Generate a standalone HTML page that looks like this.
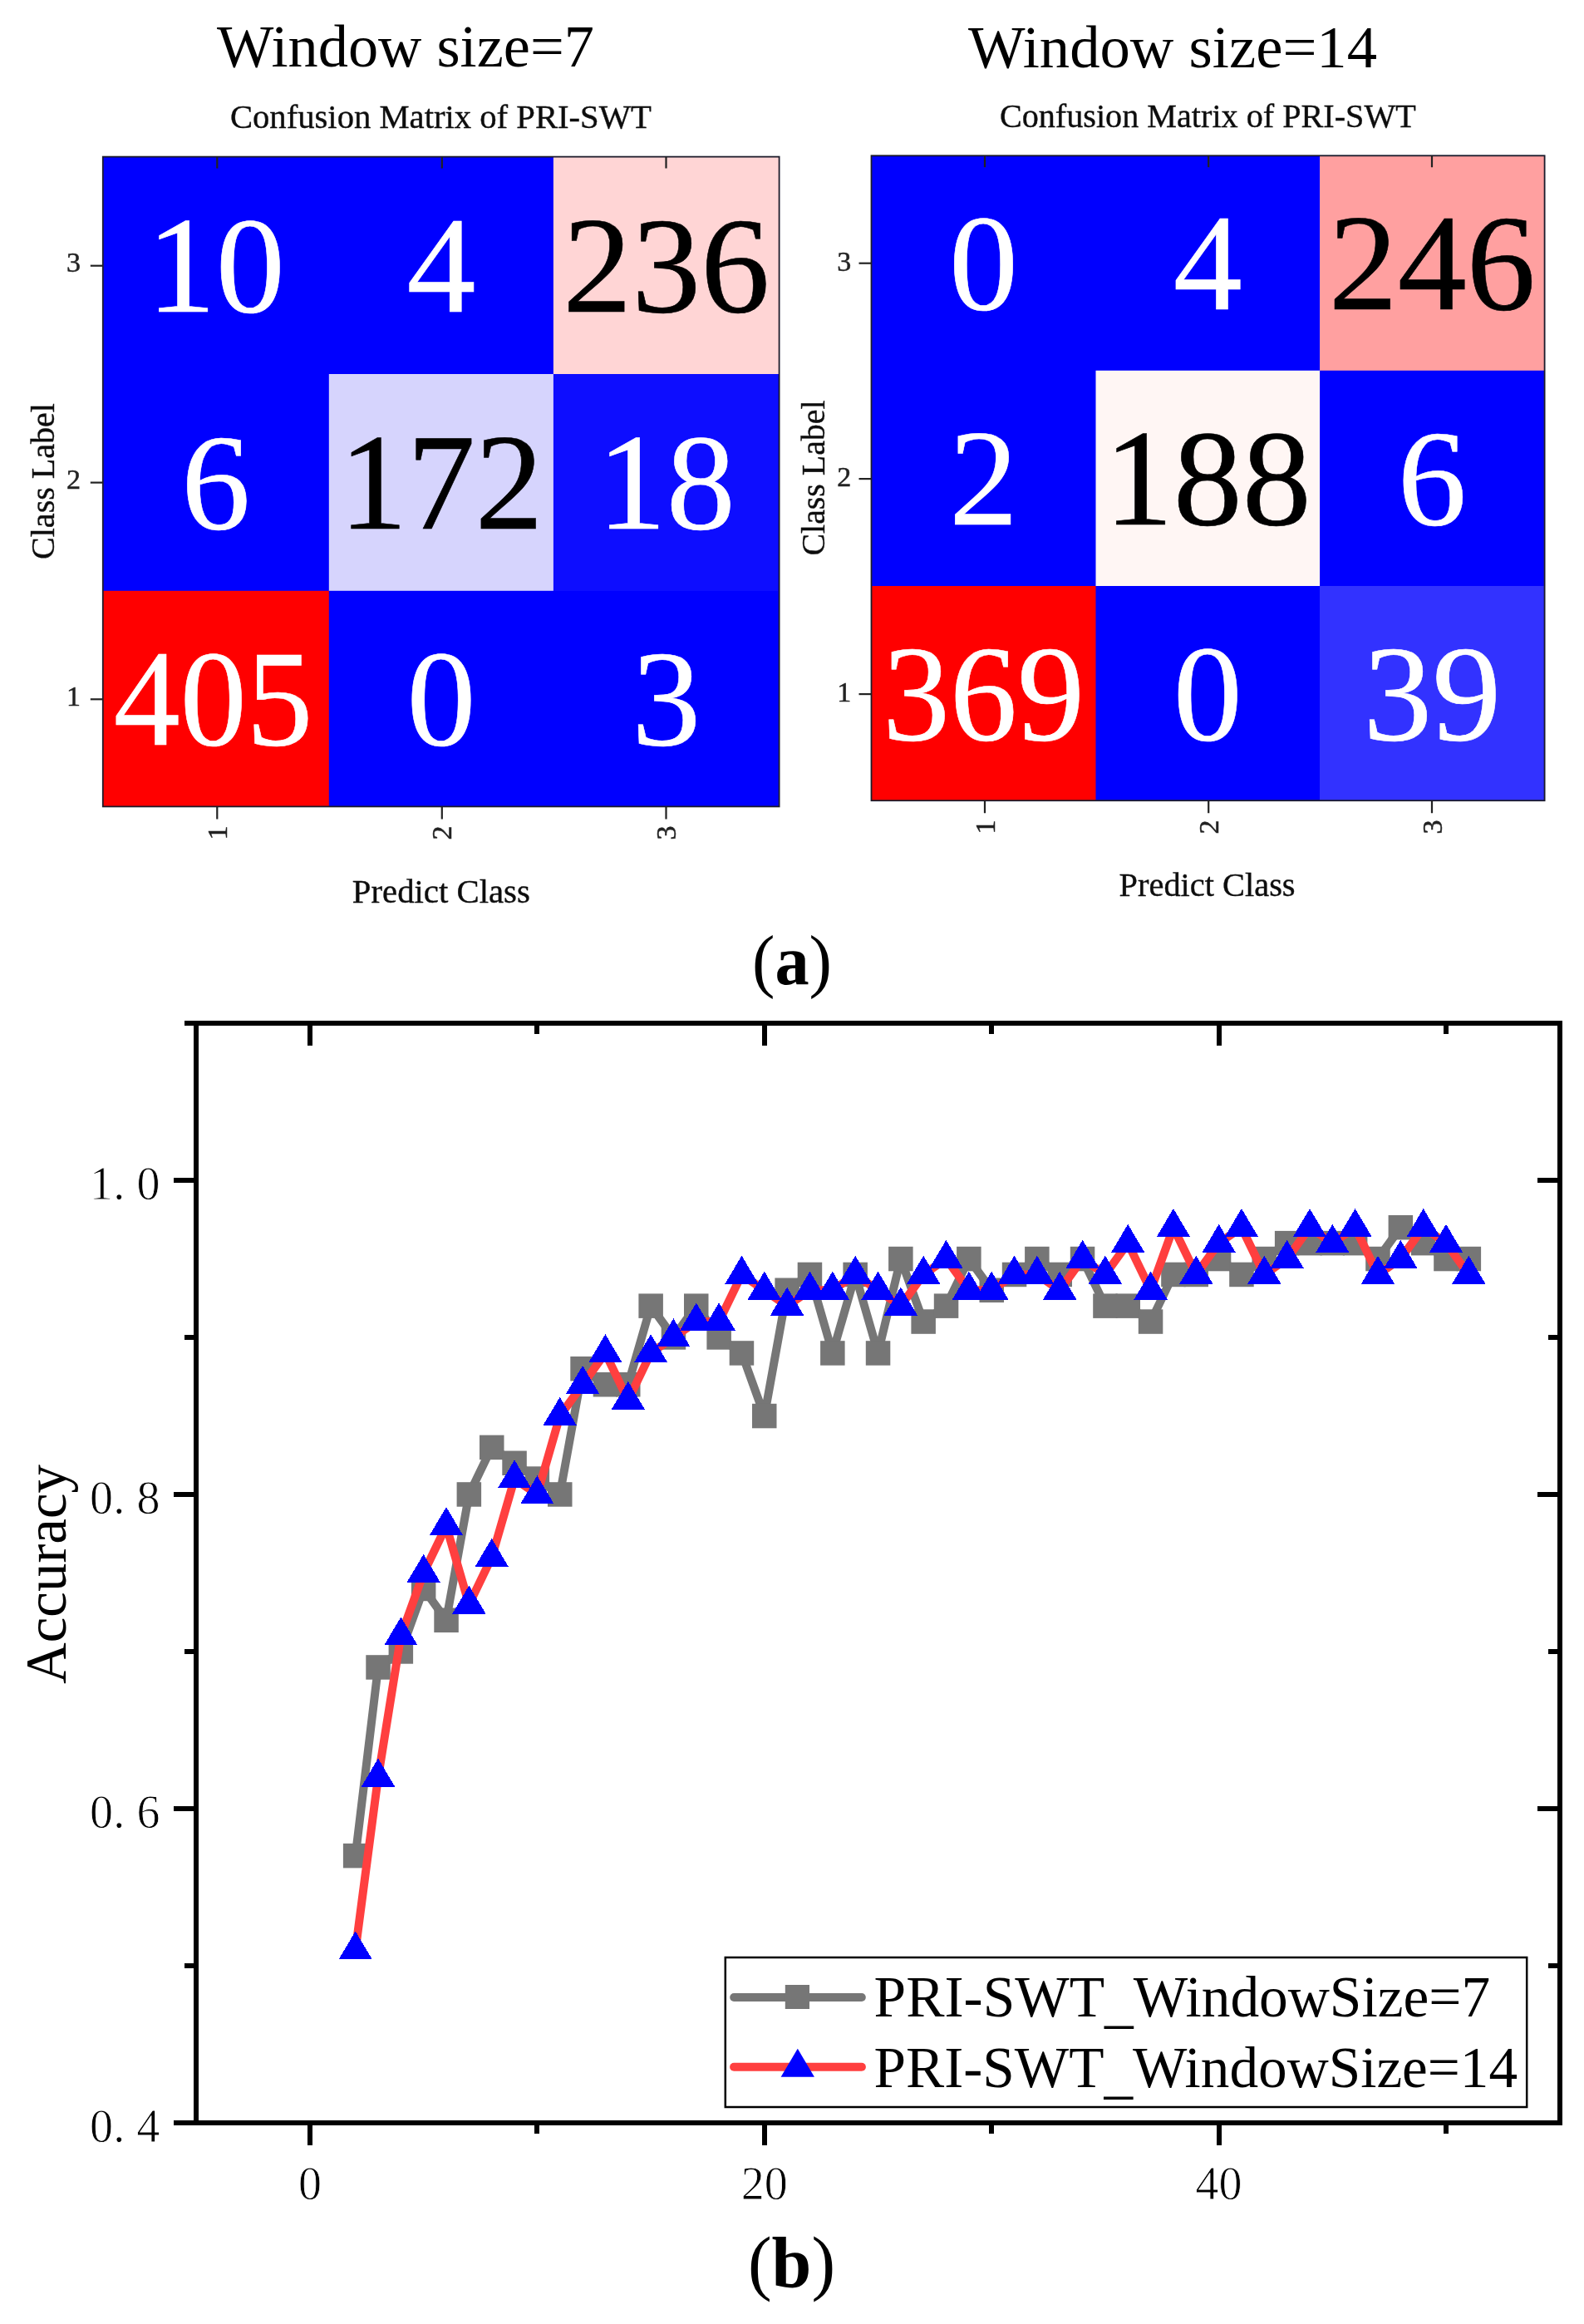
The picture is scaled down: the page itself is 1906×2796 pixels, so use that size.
<!DOCTYPE html>
<html lang="en"><head><meta charset="utf-8"><title>Figure: PRI-SWT window size comparison</title>
<style>
html,body{margin:0;padding:0;background:#fff}
body{width:1906px;height:2796px;overflow:hidden}
svg{display:block;font-family:"Liberation Serif", serif}
</style></head><body>
<svg width="1906" height="2796" viewBox="0 0 1906 2796">
<defs><filter id="soft" x="-2%" y="-2%" width="104%" height="104%"><feGaussianBlur stdDeviation="0.7"/></filter></defs>
<rect width="1906" height="2796" fill="#fff"/>
<g filter="url(#soft)">
<rect x="123.8" y="188.6" width="272.6" height="262.0" fill="#0000ff"/>
<rect x="395.8" y="188.6" width="270.7" height="262.0" fill="#0000ff"/>
<rect x="665.9" y="188.6" width="271.7" height="262.0" fill="#ffd5d5"/>
<rect x="123.8" y="450.0" width="272.6" height="261.4" fill="#0000ff"/>
<rect x="395.8" y="450.0" width="270.7" height="261.4" fill="#d6d4fd"/>
<rect x="665.9" y="450.0" width="271.7" height="261.4" fill="#0b0bff"/>
<rect x="123.8" y="710.8" width="272.6" height="259.6" fill="#ff0000"/>
<rect x="395.8" y="710.8" width="270.7" height="259.6" fill="#0000ff"/>
<rect x="665.9" y="710.8" width="271.7" height="259.6" fill="#0000ff"/>
<rect x="123.8" y="188.6" width="813.8" height="781.8" fill="none" stroke="#1a1a2a" stroke-width="1.8"/>
<path d="M261.3 188.6v14M261.3 970.4v15" stroke="#222" stroke-width="2.2"/>
<text transform="translate(272.8 1002) rotate(-90)" text-anchor="middle" font-size="34" fill="#222" stroke="#222" stroke-width="0.5">1</text>
<path d="M531.8 188.6v14M531.8 970.4v15" stroke="#222" stroke-width="2.2"/>
<text transform="translate(543.3 1002) rotate(-90)" text-anchor="middle" font-size="34" fill="#222" stroke="#222" stroke-width="0.5">2</text>
<path d="M801.5 188.6v14M801.5 970.4v15" stroke="#222" stroke-width="2.2"/>
<text transform="translate(813.0 1002) rotate(-90)" text-anchor="middle" font-size="34" fill="#222" stroke="#222" stroke-width="0.5">3</text>
<path d="M108.8 319.7h15" stroke="#222" stroke-width="2.2"/>
<text transform="translate(88.5 327.2) " text-anchor="middle" font-size="34" fill="#222" stroke="#222" stroke-width="0.5">3</text>
<path d="M108.8 580.6h15" stroke="#222" stroke-width="2.2"/>
<text transform="translate(88.5 588.1) " text-anchor="middle" font-size="34" fill="#222" stroke="#222" stroke-width="0.5">2</text>
<path d="M108.8 841.3h15" stroke="#222" stroke-width="2.2"/>
<text transform="translate(88.5 848.8) " text-anchor="middle" font-size="34" fill="#222" stroke="#222" stroke-width="0.5">1</text>
<text x="259.8" y="374.7" text-anchor="middle" font-size="166" fill="#fff" stroke="#fff" stroke-width="0.6">10</text>
<text x="530.9" y="374.7" text-anchor="middle" font-size="166" fill="#fff" stroke="#fff" stroke-width="0.6">4</text>
<text x="801.8" y="374.7" text-anchor="middle" font-size="166" fill="#000" stroke="#000" stroke-width="0.6">236</text>
<text x="259.8" y="635.6" text-anchor="middle" font-size="166" fill="#fff" stroke="#fff" stroke-width="0.6">6</text>
<text x="530.9" y="635.6" text-anchor="middle" font-size="166" textLength="245.3" lengthAdjust="spacingAndGlyphs" fill="#000" stroke="#000" stroke-width="0.6">172</text>
<text x="801.8" y="635.6" text-anchor="middle" font-size="166" fill="#fff" stroke="#fff" stroke-width="0.6">18</text>
<text x="256.6" y="896.3" text-anchor="middle" font-size="166" textLength="239.7" lengthAdjust="spacingAndGlyphs" fill="#fff" stroke="#fff" stroke-width="0.6">405</text>
<text x="530.9" y="896.3" text-anchor="middle" font-size="166" fill="#fff" stroke="#fff" stroke-width="0.6">0</text>
<text x="801.8" y="896.3" text-anchor="middle" font-size="166" fill="#fff" stroke="#fff" stroke-width="0.6">3</text>
<text x="488" y="80" text-anchor="middle" font-size="72" textLength="454" lengthAdjust="spacingAndGlyphs" fill="#000">Window size=7</text>
<text x="530.4" y="154" text-anchor="middle" font-size="40" textLength="507" lengthAdjust="spacingAndGlyphs" fill="#111" stroke="#111" stroke-width="0.4">Confusion Matrix of PRI-SWT</text>
<text transform="translate(65.4 579) rotate(-90)" text-anchor="middle" font-size="40" textLength="188" lengthAdjust="spacingAndGlyphs" fill="#111" stroke="#111" stroke-width="0.4">Class Label</text>
<text x="530.8" y="1085.5" text-anchor="middle" font-size="40" textLength="214" lengthAdjust="spacingAndGlyphs" fill="#111" stroke="#111" stroke-width="0.4">Predict Class</text>
</g>
<g filter="url(#soft)">
<rect x="1048.5" y="187.3" width="270.6" height="259.1" fill="#0000ff"/>
<rect x="1318.5" y="187.3" width="270.2" height="259.1" fill="#0000ff"/>
<rect x="1588.1" y="187.3" width="270.5" height="259.1" fill="#ffa0a0"/>
<rect x="1048.5" y="445.8" width="270.6" height="259.8" fill="#0000ff"/>
<rect x="1318.5" y="445.8" width="270.2" height="259.8" fill="#fff6f4"/>
<rect x="1588.1" y="445.8" width="270.5" height="259.8" fill="#0000ff"/>
<rect x="1048.5" y="705.0" width="270.6" height="258.2" fill="#ff0000"/>
<rect x="1318.5" y="705.0" width="270.2" height="258.2" fill="#0000ff"/>
<rect x="1588.1" y="705.0" width="270.5" height="258.2" fill="#3030ff"/>
<rect x="1048.5" y="187.3" width="810.1" height="775.9" fill="none" stroke="#1a1a2a" stroke-width="1.8"/>
<path d="M1185.0 187.3v14M1185.0 963.2v15" stroke="#222" stroke-width="2.2"/>
<text transform="translate(1196.5 995) rotate(-90)" text-anchor="middle" font-size="34" fill="#222" stroke="#222" stroke-width="0.5">1</text>
<path d="M1454.2 187.3v14M1454.2 963.2v15" stroke="#222" stroke-width="2.2"/>
<text transform="translate(1465.7 995) rotate(-90)" text-anchor="middle" font-size="34" fill="#222" stroke="#222" stroke-width="0.5">2</text>
<path d="M1723.0 187.3v14M1723.0 963.2v15" stroke="#222" stroke-width="2.2"/>
<text transform="translate(1734.5 995) rotate(-90)" text-anchor="middle" font-size="34" fill="#222" stroke="#222" stroke-width="0.5">3</text>
<path d="M1033.5 316.7h15" stroke="#222" stroke-width="2.2"/>
<text transform="translate(1015.8 326.0) " text-anchor="middle" font-size="34" fill="#222" stroke="#222" stroke-width="0.5">3</text>
<path d="M1033.5 576.1h15" stroke="#222" stroke-width="2.2"/>
<text transform="translate(1015.8 585.4) " text-anchor="middle" font-size="34" fill="#222" stroke="#222" stroke-width="0.5">2</text>
<path d="M1033.5 835.1h15" stroke="#222" stroke-width="2.2"/>
<text transform="translate(1015.8 844.4) " text-anchor="middle" font-size="34" fill="#222" stroke="#222" stroke-width="0.5">1</text>
<text x="1183.5" y="371.7" text-anchor="middle" font-size="166" fill="#fff" stroke="#fff" stroke-width="0.6">0</text>
<text x="1453.3" y="371.7" text-anchor="middle" font-size="166" fill="#fff" stroke="#fff" stroke-width="0.6">4</text>
<text x="1723.3" y="371.7" text-anchor="middle" font-size="166" fill="#000" stroke="#000" stroke-width="0.6">246</text>
<text x="1183.5" y="631.1" text-anchor="middle" font-size="166" fill="#fff" stroke="#fff" stroke-width="0.6">2</text>
<text x="1453.3" y="631.1" text-anchor="middle" font-size="166" fill="#000" stroke="#000" stroke-width="0.6">188</text>
<text x="1723.3" y="631.1" text-anchor="middle" font-size="166" fill="#fff" stroke="#fff" stroke-width="0.6">6</text>
<text x="1183.5" y="890.1" text-anchor="middle" font-size="166" textLength="243.0" lengthAdjust="spacingAndGlyphs" fill="#fff" stroke="#fff" stroke-width="0.6">369</text>
<text x="1453.3" y="890.1" text-anchor="middle" font-size="166" fill="#fff" stroke="#fff" stroke-width="0.6">0</text>
<text x="1723.3" y="890.1" text-anchor="middle" font-size="166" fill="#fff" stroke="#fff" stroke-width="0.6">39</text>
<text x="1411" y="80.5" text-anchor="middle" font-size="72" textLength="492" lengthAdjust="spacingAndGlyphs" fill="#000">Window size=14</text>
<text x="1453.4" y="153" text-anchor="middle" font-size="40" textLength="501" lengthAdjust="spacingAndGlyphs" fill="#111" stroke="#111" stroke-width="0.4">Confusion Matrix of PRI-SWT</text>
<text transform="translate(991.7 575) rotate(-90)" text-anchor="middle" font-size="40" textLength="187" lengthAdjust="spacingAndGlyphs" fill="#111" stroke="#111" stroke-width="0.4">Class Label</text>
<text x="1452.6" y="1078.4" text-anchor="middle" font-size="40" textLength="212" lengthAdjust="spacingAndGlyphs" fill="#111" stroke="#111" stroke-width="0.4">Predict Class</text>
</g>
<text x="953" y="1184" text-anchor="middle" font-size="85" textLength="96" lengthAdjust="spacingAndGlyphs"><tspan>(</tspan><tspan font-weight="700">a</tspan><tspan>)</tspan></text>
<text x="952.5" y="2751" text-anchor="middle" font-size="86"><tspan>(</tspan><tspan font-weight="700">b</tspan><tspan>)</tspan></text>
<g stroke="#000" stroke-width="6" fill="none" stroke-linecap="butt" shape-rendering="crispEdges">
<rect x="236.3" y="1231.0" width="1640.4" height="1323.0"/>
<path d="M373.0 1231.0v27M373.0 2554.0v27M646.4 1231.0v13M646.4 2554.0v13M919.8 1231.0v27M919.8 2554.0v27M1193.2 1231.0v13M1193.2 2554.0v13M1466.6 1231.0v27M1466.6 2554.0v27M1740.0 1231.0v13M1740.0 2554.0v13M236.3 2554.0h-27M1876.7 2554.0h-27M236.3 2365.0h-14M1876.7 2365.0h-14M236.3 2176.0h-27M1876.7 2176.0h-27M236.3 1987.0h-14M1876.7 1987.0h-14M236.3 1798.0h-27M1876.7 1798.0h-27M236.3 1609.0h-14M1876.7 1609.0h-14M236.3 1420.0h-27M1876.7 1420.0h-27M236.3 1231.0h-14M1876.7 1231.0h-14"/>
</g>
<polyline points="427.7,2232.7 455.0,2005.9 482.4,1987.0 509.7,1911.4 537.0,1949.2 564.4,1798.0 591.7,1741.3 619.1,1760.2 646.4,1779.1 673.7,1798.0 701.1,1646.8 728.4,1665.7 755.8,1665.7 783.1,1571.2 810.4,1609.0 837.8,1571.2 865.1,1609.0 892.5,1627.9 919.8,1703.5 947.1,1552.3 974.5,1533.4 1001.8,1627.9 1029.2,1533.4 1056.5,1627.9 1083.8,1514.5 1111.2,1590.1 1138.5,1571.2 1165.9,1514.5 1193.2,1552.3 1220.5,1533.4 1247.9,1514.5 1275.2,1533.4 1302.6,1514.5 1329.9,1571.2 1357.2,1571.2 1384.6,1590.1 1411.9,1533.4 1439.3,1533.4 1466.6,1514.5 1493.9,1533.4 1521.3,1514.5 1548.6,1495.6 1576.0,1495.6 1603.3,1495.6 1630.6,1495.6 1658.0,1514.5 1685.3,1476.7 1712.7,1495.6 1740.0,1514.5 1767.3,1514.5" fill="none" stroke="#767676" stroke-width="10" stroke-linejoin="round"/>
<g fill="#767676"><rect x="412.9" y="2217.9" width="29.5" height="29.5"/><rect x="440.3" y="1991.2" width="29.5" height="29.5"/><rect x="467.6" y="1972.2" width="29.5" height="29.5"/><rect x="494.9" y="1896.7" width="29.5" height="29.5"/><rect x="522.3" y="1934.5" width="29.5" height="29.5"/><rect x="549.6" y="1783.2" width="29.5" height="29.5"/><rect x="577.0" y="1726.6" width="29.5" height="29.5"/><rect x="604.3" y="1745.5" width="29.5" height="29.5"/><rect x="631.6" y="1764.3" width="29.5" height="29.5"/><rect x="659.0" y="1783.2" width="29.5" height="29.5"/><rect x="686.3" y="1632.0" width="29.5" height="29.5"/><rect x="713.7" y="1651.0" width="29.5" height="29.5"/><rect x="741.0" y="1651.0" width="29.5" height="29.5"/><rect x="768.4" y="1556.4" width="29.5" height="29.5"/><rect x="795.7" y="1594.2" width="29.5" height="29.5"/><rect x="823.0" y="1556.4" width="29.5" height="29.5"/><rect x="850.4" y="1594.2" width="29.5" height="29.5"/><rect x="877.7" y="1613.2" width="29.5" height="29.5"/><rect x="905.0" y="1688.8" width="29.5" height="29.5"/><rect x="932.4" y="1537.5" width="29.5" height="29.5"/><rect x="959.7" y="1518.7" width="29.5" height="29.5"/><rect x="987.1" y="1613.2" width="29.5" height="29.5"/><rect x="1014.4" y="1518.7" width="29.5" height="29.5"/><rect x="1041.8" y="1613.2" width="29.5" height="29.5"/><rect x="1069.1" y="1499.8" width="29.5" height="29.5"/><rect x="1096.4" y="1575.3" width="29.5" height="29.5"/><rect x="1123.8" y="1556.4" width="29.5" height="29.5"/><rect x="1151.1" y="1499.8" width="29.5" height="29.5"/><rect x="1178.5" y="1537.5" width="29.5" height="29.5"/><rect x="1205.8" y="1518.7" width="29.5" height="29.5"/><rect x="1233.1" y="1499.8" width="29.5" height="29.5"/><rect x="1260.5" y="1518.7" width="29.5" height="29.5"/><rect x="1287.8" y="1499.8" width="29.5" height="29.5"/><rect x="1315.2" y="1556.4" width="29.5" height="29.5"/><rect x="1342.5" y="1556.4" width="29.5" height="29.5"/><rect x="1369.8" y="1575.3" width="29.5" height="29.5"/><rect x="1397.2" y="1518.7" width="29.5" height="29.5"/><rect x="1424.5" y="1518.7" width="29.5" height="29.5"/><rect x="1451.8" y="1499.8" width="29.5" height="29.5"/><rect x="1479.2" y="1518.7" width="29.5" height="29.5"/><rect x="1506.5" y="1499.8" width="29.5" height="29.5"/><rect x="1533.9" y="1480.9" width="29.5" height="29.5"/><rect x="1561.2" y="1480.9" width="29.5" height="29.5"/><rect x="1588.5" y="1480.9" width="29.5" height="29.5"/><rect x="1615.9" y="1480.9" width="29.5" height="29.5"/><rect x="1643.2" y="1499.8" width="29.5" height="29.5"/><rect x="1670.6" y="1462.0" width="29.5" height="29.5"/><rect x="1697.9" y="1480.9" width="29.5" height="29.5"/><rect x="1725.2" y="1499.8" width="29.5" height="29.5"/><rect x="1752.6" y="1499.8" width="29.5" height="29.5"/></g>
<polyline points="427.7,2346.1 455.0,2138.2 482.4,1968.1 509.7,1892.5 537.0,1835.8 564.4,1930.3 591.7,1873.6 619.1,1779.1 646.4,1798.0 673.7,1703.5 701.1,1665.7 728.4,1627.9 755.8,1684.6 783.1,1627.9 810.4,1609.0 837.8,1590.1 865.1,1590.1 892.5,1533.4 919.8,1552.3 947.1,1571.2 974.5,1552.3 1001.8,1552.3 1029.2,1533.4 1056.5,1552.3 1083.8,1571.2 1111.2,1533.4 1138.5,1514.5 1165.9,1552.3 1193.2,1552.3 1220.5,1533.4 1247.9,1533.4 1275.2,1552.3 1302.6,1514.5 1329.9,1533.4 1357.2,1495.6 1384.6,1552.3 1411.9,1476.7 1439.3,1533.4 1466.6,1495.6 1493.9,1476.7 1521.3,1533.4 1548.6,1514.5 1576.0,1476.7 1603.3,1495.6 1630.6,1476.7 1658.0,1533.4 1685.3,1514.5 1712.7,1476.7 1740.0,1495.6 1767.3,1533.4" fill="none" stroke="#ff3f3f" stroke-width="10" stroke-linejoin="round"/>
<path fill="#0000ff" shape-rendering="crispEdges" d="M427.7 2323.4l20.15 34h-40.3zM455.0 2115.5l20.15 34h-40.3zM482.4 1945.4l20.15 34h-40.3zM509.7 1869.8l20.15 34h-40.3zM537.0 1813.1l20.15 34h-40.3zM564.4 1907.6l20.15 34h-40.3zM591.7 1850.9l20.15 34h-40.3zM619.1 1756.4l20.15 34h-40.3zM646.4 1775.3l20.15 34h-40.3zM673.7 1680.8l20.15 34h-40.3zM701.1 1643.0l20.15 34h-40.3zM728.4 1605.2l20.15 34h-40.3zM755.8 1661.9l20.15 34h-40.3zM783.1 1605.2l20.15 34h-40.3zM810.4 1586.3l20.15 34h-40.3zM837.8 1567.4l20.15 34h-40.3zM865.1 1567.4l20.15 34h-40.3zM892.5 1510.7l20.15 34h-40.3zM919.8 1529.6l20.15 34h-40.3zM947.1 1548.5l20.15 34h-40.3zM974.5 1529.6l20.15 34h-40.3zM1001.8 1529.6l20.15 34h-40.3zM1029.2 1510.7l20.15 34h-40.3zM1056.5 1529.6l20.15 34h-40.3zM1083.8 1548.5l20.15 34h-40.3zM1111.2 1510.7l20.15 34h-40.3zM1138.5 1491.8l20.15 34h-40.3zM1165.9 1529.6l20.15 34h-40.3zM1193.2 1529.6l20.15 34h-40.3zM1220.5 1510.7l20.15 34h-40.3zM1247.9 1510.7l20.15 34h-40.3zM1275.2 1529.6l20.15 34h-40.3zM1302.6 1491.8l20.15 34h-40.3zM1329.9 1510.7l20.15 34h-40.3zM1357.2 1472.9l20.15 34h-40.3zM1384.6 1529.6l20.15 34h-40.3zM1411.9 1454.0l20.15 34h-40.3zM1439.3 1510.7l20.15 34h-40.3zM1466.6 1472.9l20.15 34h-40.3zM1493.9 1454.0l20.15 34h-40.3zM1521.3 1510.7l20.15 34h-40.3zM1548.6 1491.8l20.15 34h-40.3zM1576.0 1454.0l20.15 34h-40.3zM1603.3 1472.9l20.15 34h-40.3zM1630.6 1454.0l20.15 34h-40.3zM1658.0 1510.7l20.15 34h-40.3zM1685.3 1491.8l20.15 34h-40.3zM1712.7 1454.0l20.15 34h-40.3zM1740.0 1472.9l20.15 34h-40.3zM1767.3 1510.7l20.15 34h-40.3z"/>
<text x="108 136.3 164.5" y="1442.5" font-size="56" stroke="#fff" stroke-width="0.8">1.0</text>
<text x="108 136.3 164.5" y="1820.5" font-size="56" stroke="#fff" stroke-width="0.8">0.8</text>
<text x="108 136.3 164.5" y="2198.5" font-size="56" stroke="#fff" stroke-width="0.8">0.6</text>
<text x="108 136.3 164.5" y="2576.5" font-size="56" stroke="#fff" stroke-width="0.8">0.4</text>
<text x="359.0" y="2646" font-size="56" stroke="#fff" stroke-width="0.8">0</text>
<text x="891.8 919.8" y="2646" font-size="56" stroke="#fff" stroke-width="0.8">20</text>
<text x="1438.6 1466.6" y="2646" font-size="56" stroke="#fff" stroke-width="0.8">40</text>
<text transform="translate(79.4 1894) rotate(-90)" text-anchor="middle" font-size="69" textLength="264" lengthAdjust="spacingAndGlyphs">Accuracy</text>
<rect x="872.8" y="2355" width="964.4" height="180" fill="#fff" stroke="#000" stroke-width="2.5"/>
<path d="M883.1 2403h153.8" stroke="#767676" stroke-width="9.8" stroke-linecap="round"/><rect x="944.8" y="2388" width="29.2" height="29" fill="#767676"/>
<path d="M883.1 2486.8h153.8" stroke="#ff3f3f" stroke-width="10" stroke-linecap="round"/><path fill="#0000ff" d="M959.8 2464.7l20.15 34h-40.3z"/>
<text x="1051.6" y="2426" font-size="70" textLength="741.5" lengthAdjust="spacingAndGlyphs">PRI-SWT<tspan dy="5.5">_</tspan><tspan dy="-5.5">WindowSize=7</tspan></text>
<text x="1051.6" y="2511" font-size="70" textLength="774.5" lengthAdjust="spacingAndGlyphs">PRI-SWT<tspan dy="5.5">_</tspan><tspan dy="-5.5">WindowSize=14</tspan></text>
</svg></body></html>
